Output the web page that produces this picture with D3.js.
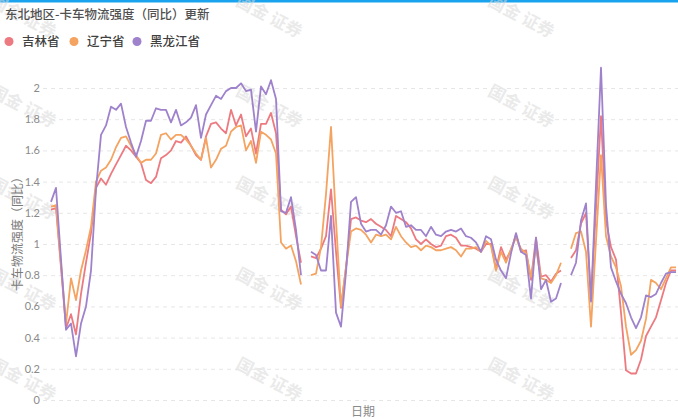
<!DOCTYPE html>
<html>
<head>
<meta charset="utf-8">
<script src="https://cdn.jsdelivr.net/npm/d3@7/dist/d3.min.js"></script>
<style>
  html, body { margin: 0; padding: 0; background: #ffffff; }
  svg { display: block; font-family: "Noto Sans CJK SC", "Noto Sans", sans-serif; }
</style>
</head>
<body>
<svg id="chart" width="678" height="419"></svg>
<script>
// Weekly truck logistics intensity (YoY) for the three northeastern provinces.
// null marks a break between yearly segments.
const seriesNames = ["吉林省", "辽宁省", "黑龙江省"];
const seriesColors = ["#ec7a80", "#f4a361", "#9f82cc"];

const jilin = [
  1.22,1.23,0.85,0.46,0.55,0.42,0.68,0.88,1.07,1.36,
  1.42,1.38,1.45,1.51,1.57,1.63,1.60,1.56,1.52,1.41,
  1.39,1.43,1.55,1.57,1.60,1.66,1.65,1.69,1.63,1.57,
  1.54,1.69,1.77,1.78,1.74,1.71,1.86,1.76,1.83,1.69,
  1.74,1.58,1.77,1.77,1.84,1.71,1.22,1.19,1.24,1.05,
  0.88,
  null,
  0.92,0.91,0.97,1.05,1.35,0.95,0.59,0.85,
  1.16,1.17,1.15,1.14,1.16,1.13,1.11,1.09,1.05,1.18,
  1.16,1.14,1.10,1.03,1.00,1.03,1.00,0.98,0.99,1.05,
  1.06,1.04,0.99,0.99,0.98,0.97,0.95,1.00,1.00,0.84,
  0.98,0.90,0.96,1.06,0.95,0.96,0.77,1.04,0.79,0.80,
  0.76,0.81,0.83,
  null,
  0.91,0.96,1.13,1.20,0.64,1.23,1.82,1.15,0.98,0.90,
  0.56,0.19,0.17,0.17,0.26,0.41,0.47,0.53,0.64,0.75,
  0.83,0.83
];

const liaoning = [
  1.24,1.25,0.87,0.49,0.78,0.64,0.83,0.96,1.11,1.40,
  1.47,1.49,1.54,1.62,1.68,1.69,1.63,1.57,1.52,1.54,
  1.54,1.58,1.70,1.71,1.67,1.70,1.70,1.67,1.63,1.58,
  1.54,1.68,1.49,1.54,1.61,1.63,1.72,1.75,1.76,1.60,
  1.66,1.52,1.72,1.70,1.67,1.58,1.01,0.97,0.99,0.89,
  0.74,
  null,
  0.80,0.81,0.98,1.32,1.75,1.15,0.60,0.85,
  1.08,1.10,1.09,1.06,1.01,1.06,1.05,1.06,1.03,1.11,
  1.05,1.01,0.98,0.99,0.96,0.99,0.98,0.96,0.96,0.97,
  0.98,0.96,0.92,0.97,0.97,0.98,0.95,1.02,0.99,0.83,
  0.95,0.88,0.97,1.04,0.97,0.94,0.79,0.97,0.78,0.77,
  0.75,0.80,0.88,
  null,
  0.97,1.07,1.08,0.95,0.47,1.02,1.57,1.05,0.92,0.85,
  0.73,0.47,0.29,0.32,0.38,0.52,0.77,0.75,0.71,0.78,
  0.85,0.85
];

const heilongjiang = [
  1.27,1.36,0.90,0.45,0.49,0.28,0.49,0.60,0.83,1.35,
  1.70,1.76,1.88,1.86,1.90,1.75,1.65,1.56,1.66,1.79,
  1.79,1.87,1.86,1.86,1.78,1.86,1.76,1.78,1.81,1.89,
  1.68,1.83,1.89,1.95,1.93,1.98,2.00,2.00,2.03,1.98,
  1.99,1.72,2.01,1.96,2.05,1.93,1.21,1.20,1.30,1.09,
  0.80,
  null,
  0.95,0.93,0.83,0.83,1.18,0.56,0.47,0.82,
  1.27,1.30,1.13,1.08,1.09,1.09,1.06,1.12,1.24,1.20,
  1.21,1.11,1.12,1.09,1.09,1.05,1.11,1.06,1.05,1.08,
  1.09,1.08,1.10,1.05,1.04,1.01,0.95,1.05,1.03,0.90,
  0.83,0.78,0.94,1.07,0.95,0.93,0.65,1.04,0.71,0.77,
  0.63,0.65,0.75,
  null,
  0.80,0.88,1.15,1.26,0.63,1.38,2.13,1.25,0.85,0.76,
  0.68,0.62,0.53,0.46,0.53,0.67,0.66,0.68,0.75,0.81,
  0.82,0.82
];

const yTicks = [0, 0.2, 0.4, 0.6, 0.8, 1, 1.2, 1.4, 1.6, 1.8, 2];
const weeks = jilin.map((_, i) => i);   // category index along the date axis

const chartTitle = "东北地区-卡车物流强度（同比）更新";
const yTitle = "卡车物流强度（同比）";
const xTitle = "日期";
const watermarkText = "国金 证券";

const svg = d3.select("#chart");
const W = 678, H = 419;
const plot = { left: 43, right: 678, top: 88, bottom: 400 };

// top accent bar
svg.append("rect").attr("x", 0).attr("y", 0).attr("width", W).attr("height", 2.5)
  .attr("fill", "#19a3ee");

const x = d3.scalePoint().domain(weeks).range([51, 676]);
const y = d3.scaleLinear().domain([0, 2]).range([plot.bottom, plot.top]);

// watermark grid
const wmCols = [24, 270, 522];
const wmRows = [15, 105, 197, 288, 378];
const wm = svg.append("g").attr("class", "watermarks");
wmCols.forEach(cx => wmRows.forEach(cy => {
  wm.append("text")
    .attr("transform", `translate(${cx},${cy}) rotate(28)`)
    .attr("text-anchor", "middle")
    .attr("dominant-baseline", "central")
    .attr("font-size", 17)
    .attr("font-weight", 700)
    .attr("fill", "#d9d9d9")
    .attr("fill-opacity", 0.55)
    .text(watermarkText);
}));

// y axis with dashed grid
const yAxis = d3.axisLeft(y).tickValues(yTicks).tickFormat(d3.format("~g"))
  .tickSize(-(plot.right - plot.left)).tickPadding(3);
const gy = svg.append("g").attr("transform", `translate(${plot.left},0)`).call(yAxis);
gy.select(".domain").remove();
gy.selectAll(".tick line").attr("stroke", "#e6e6e6").attr("stroke-dasharray", "4,4");
gy.selectAll(".tick text").attr("fill", "#8a8a8a").attr("font-size", 11)
  .attr("font-family", "Lato, 'Noto Sans', sans-serif");

// axis titles
svg.append("text")
  .attr("transform", `translate(16,${(plot.top + plot.bottom) / 2 - 13}) rotate(-90)`)
  .attr("text-anchor", "middle").attr("dominant-baseline", "central")
  .attr("font-size", 12).attr("fill", "#7a7a7a").text(yTitle);
svg.append("text").attr("x", 363).attr("y", 416)
  .attr("text-anchor", "middle").attr("font-size", 12).attr("fill", "#8a8a8a").text(xTitle);

// lines
const line = d3.line()
  .defined(d => d != null)
  .x((d, i) => x(weeks[i]))
  .y(d => y(d));
const allSeries = [jilin, liaoning, heilongjiang];
allSeries.forEach((s, k) => {
  svg.append("path").datum(s)
    .attr("d", line)
    .attr("fill", "none")
    .attr("stroke", seriesColors[k])
    .attr("stroke-width", 1.8)
    .attr("stroke-linejoin", "round");
});

// title
svg.append("text").attr("x", 5).attr("y", 19)
  .attr("font-size", 12.5).attr("font-weight", 500).attr("fill", "#505050").text(chartTitle);

// legend
const legendX = [9, 74, 137];
const lg = svg.append("g");
seriesNames.forEach((n, k) => {
  lg.append("circle").attr("cx", legendX[k]).attr("cy", 41.5).attr("r", 4.5)
    .attr("fill", seriesColors[k]);
  lg.append("text").attr("x", legendX[k] + 13).attr("y", 46)
    .attr("font-size", 12.5).attr("font-weight", 500).attr("fill", "#404040").text(n);
});
</script>
</body>
</html>
